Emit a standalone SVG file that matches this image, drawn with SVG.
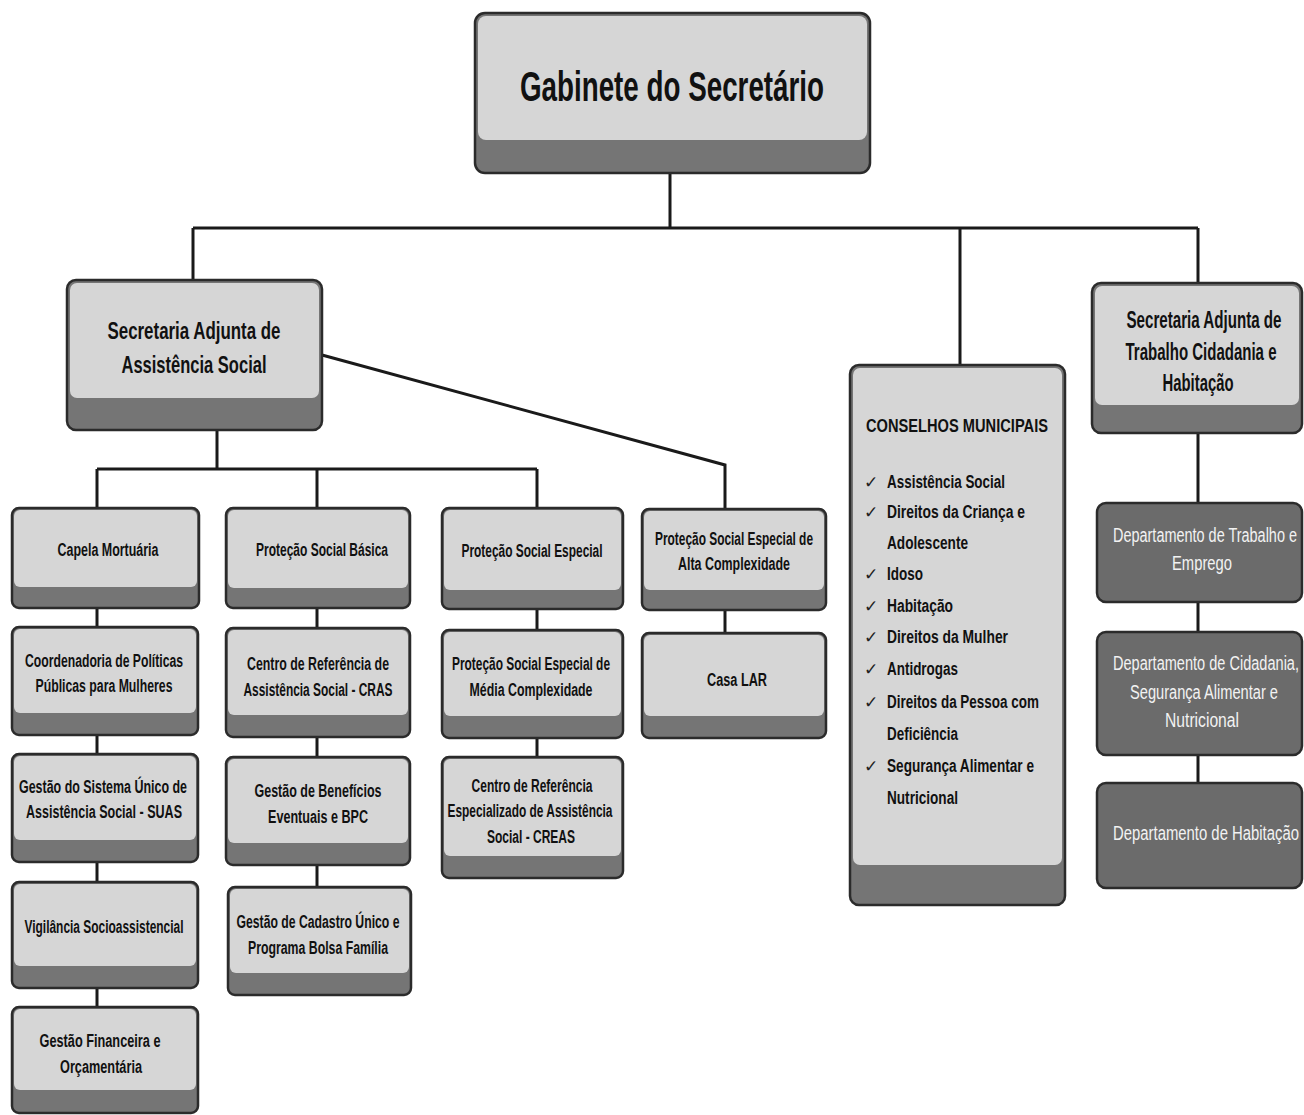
<svg xmlns="http://www.w3.org/2000/svg" width="1304" height="1115" viewBox="0 0 1304 1115">
<defs>
<style>
.bg{fill:#ffffff}
.outer{fill:#757575;stroke:#2b2b2b;stroke-width:2.5}
.inner{fill:#d6d6d6}
.dept{fill:#6b6b6b;stroke:#2b2b2b;stroke-width:2.5}
.t{font-family:"Liberation Sans Narrow","Liberation Sans",Arial,sans-serif;font-weight:bold;fill:#111;text-anchor:middle}
.s{font-size:18px}
.m{font-size:24px}
.l{font-size:42px}
.w{font-family:"Liberation Sans Narrow","Liberation Sans",Arial,sans-serif;font-weight:normal;fill:#f2f2f2;text-anchor:middle;font-size:20px}
.li{font-family:"Liberation Sans Narrow","Liberation Sans",Arial,sans-serif;font-weight:bold;fill:#111;font-size:18px}
.ck{font-family:"DejaVu Sans",sans-serif;fill:#222;font-size:17px}
.c{fill:none;stroke:#1a1a1a;stroke-width:3}
</style>
</defs>
<rect class="bg" x="0" y="0" width="1304" height="1115"/>

<g id="connectors">
<path class="c" d="M670,173 V228 M193,228 H1198 M193,228 V283 M960,228 V365 M1198,228 V283"/>
<path class="c" d="M217,430 V469 M97,469 H537 M97,469 V508 M317,469 V508 M537,469 V508"/>
<path class="c" d="M322,355 L725,465 V509"/>
<path class="c" d="M97,608 V627 M97,735 V754 M97,862 V882 M97,988 V1007"/>
<path class="c" d="M317,608 V628 M317,737 V757 M317,865 V887"/>
<path class="c" d="M537,609 V630 M537,738 V757"/>
<path class="c" d="M725,610 V633"/>
<path class="c" d="M1198,433 V503 M1198,602 V632 M1198,755 V783"/>
</g>

<g id="gabinete">
<rect class="outer" x="475" y="13" width="395" height="160" rx="10"/>
<rect class="inner" x="478" y="16" width="389" height="124" rx="8"/>
<text class="t l" x="672" y="101" textLength="304" lengthAdjust="spacingAndGlyphs">Gabinete do Secretário</text>
</g>

<g id="sa-assistencia">
<rect class="outer" x="67" y="280" width="255" height="150" rx="9"/>
<rect class="inner" x="70" y="283" width="249" height="115" rx="7"/>
<text class="t m" x="194" y="339" textLength="173" lengthAdjust="spacingAndGlyphs">Secretaria Adjunta de</text>
<text class="t m" x="194" y="373" textLength="145" lengthAdjust="spacingAndGlyphs">Assistência Social</text>
</g>

<g id="capela">
<rect class="outer" x="12" y="508" width="187" height="100" rx="7"/>
<rect class="inner" x="14" y="510" width="183" height="77" rx="6"/>
<text class="t s" x="108" y="556" textLength="101" lengthAdjust="spacingAndGlyphs">Capela Mortuária</text>
</g>

<g id="psb">
<rect class="outer" x="226" y="508" width="184" height="100" rx="7"/>
<rect class="inner" x="228" y="510" width="180" height="78" rx="6"/>
<text class="t s" x="322" y="556" textLength="132" lengthAdjust="spacingAndGlyphs">Proteção Social Básica</text>
</g>

<g id="pse">
<rect class="outer" x="442" y="508" width="181" height="101" rx="7"/>
<rect class="inner" x="444" y="510" width="177" height="80" rx="6"/>
<text class="t s" x="532" y="557" textLength="141" lengthAdjust="spacingAndGlyphs">Proteção Social Especial</text>
</g>

<g id="pse-alta">
<rect class="outer" x="642" y="509" width="184" height="101" rx="7"/>
<rect class="inner" x="644" y="511" width="180" height="79" rx="6"/>
<text class="t s" x="734" y="545" textLength="158" lengthAdjust="spacingAndGlyphs">Proteção Social Especial de</text>
<text class="t s" x="734" y="570" textLength="112" lengthAdjust="spacingAndGlyphs">Alta Complexidade</text>
</g>

<g id="coordenadoria">
<rect class="outer" x="12" y="627" width="186" height="108" rx="7"/>
<rect class="inner" x="14" y="629" width="182" height="84" rx="6"/>
<text class="t s" x="104" y="667" textLength="158" lengthAdjust="spacingAndGlyphs">Coordenadoria de Políticas</text>
<text class="t s" x="104" y="692" textLength="137" lengthAdjust="spacingAndGlyphs">Públicas para Mulheres</text>
</g>

<g id="cras">
<rect class="outer" x="226" y="628" width="184" height="109" rx="7"/>
<rect class="inner" x="228" y="630" width="180" height="85" rx="6"/>
<text class="t s" x="318" y="670" textLength="142" lengthAdjust="spacingAndGlyphs">Centro de Referência de</text>
<text class="t s" x="318" y="696" textLength="149" lengthAdjust="spacingAndGlyphs">Assistência Social - CRAS</text>
</g>

<g id="pse-media">
<rect class="outer" x="442" y="630" width="181" height="108" rx="7"/>
<rect class="inner" x="444" y="632" width="177" height="84" rx="6"/>
<text class="t s" x="531" y="670" textLength="158" lengthAdjust="spacingAndGlyphs">Proteção Social Especial de</text>
<text class="t s" x="531" y="696" textLength="123" lengthAdjust="spacingAndGlyphs">Média Complexidade</text>
</g>

<g id="casa-lar">
<rect class="outer" x="642" y="633" width="184" height="105" rx="7"/>
<rect class="inner" x="644" y="635" width="180" height="81" rx="6"/>
<text class="t s" x="737" y="686" textLength="60" lengthAdjust="spacingAndGlyphs">Casa LAR</text>
</g>

<g id="suas">
<rect class="outer" x="12" y="754" width="186" height="108" rx="7"/>
<rect class="inner" x="14" y="756" width="182" height="84" rx="6"/>
<text class="t s" x="103" y="793" textLength="168" lengthAdjust="spacingAndGlyphs">Gestão do Sistema Único de</text>
<text class="t s" x="104" y="818" textLength="156" lengthAdjust="spacingAndGlyphs">Assistência Social - SUAS</text>
</g>

<g id="beneficios">
<rect class="outer" x="226" y="757" width="184" height="108" rx="7"/>
<rect class="inner" x="228" y="759" width="180" height="84" rx="6"/>
<text class="t s" x="318" y="797" textLength="127" lengthAdjust="spacingAndGlyphs">Gestão de Benefícios</text>
<text class="t s" x="318" y="823" textLength="100" lengthAdjust="spacingAndGlyphs">Eventuais e BPC</text>
</g>

<g id="creas">
<rect class="outer" x="442" y="757" width="181" height="121" rx="7"/>
<rect class="inner" x="444" y="759" width="177" height="97" rx="6"/>
<text class="t s" x="532" y="792" textLength="121" lengthAdjust="spacingAndGlyphs">Centro de Referência</text>
<text class="t s" x="530" y="817" textLength="165" lengthAdjust="spacingAndGlyphs">Especializado de Assistência</text>
<text class="t s" x="531" y="843" textLength="88" lengthAdjust="spacingAndGlyphs">Social - CREAS</text>
</g>

<g id="vigilancia">
<rect class="outer" x="12" y="882" width="186" height="106" rx="7"/>
<rect class="inner" x="14" y="884" width="182" height="82" rx="6"/>
<text class="t s" x="104" y="933" textLength="159" lengthAdjust="spacingAndGlyphs">Vigilância Socioassistencial</text>
</g>

<g id="cadastro">
<rect class="outer" x="228" y="887" width="183" height="108" rx="7"/>
<rect class="inner" x="230" y="889" width="179" height="84" rx="6"/>
<text class="t s" x="318" y="928" textLength="163" lengthAdjust="spacingAndGlyphs">Gestão de Cadastro Único e</text>
<text class="t s" x="318" y="954" textLength="140" lengthAdjust="spacingAndGlyphs">Programa Bolsa Família</text>
</g>

<g id="financeira">
<rect class="outer" x="12" y="1007" width="186" height="106" rx="7"/>
<rect class="inner" x="14" y="1009" width="182" height="81" rx="6"/>
<text class="t s" x="100" y="1047" textLength="121" lengthAdjust="spacingAndGlyphs">Gestão Financeira e</text>
<text class="t s" x="101" y="1073" textLength="82" lengthAdjust="spacingAndGlyphs">Orçamentária</text>
</g>

<g id="conselhos">
<rect class="outer" x="850" y="365" width="215" height="540" rx="9"/>
<rect class="inner" x="853" y="368" width="209" height="497" rx="7"/>
<text class="li" x="866" y="432" textLength="182" lengthAdjust="spacingAndGlyphs">CONSELHOS MUNICIPAIS</text>
<text class="ck" x="864" y="488">✓</text>
<text class="li" x="887" y="488" textLength="118" lengthAdjust="spacingAndGlyphs">Assistência Social</text>
<text class="ck" x="864" y="518">✓</text>
<text class="li" x="887" y="518" textLength="138" lengthAdjust="spacingAndGlyphs">Direitos da Criança e</text>
<text class="li" x="887" y="549" textLength="81" lengthAdjust="spacingAndGlyphs">Adolescente</text>
<text class="ck" x="864" y="580">✓</text>
<text class="li" x="887" y="580" textLength="36" lengthAdjust="spacingAndGlyphs">Idoso</text>
<text class="ck" x="864" y="612">✓</text>
<text class="li" x="887" y="612" textLength="66" lengthAdjust="spacingAndGlyphs">Habitação</text>
<text class="ck" x="864" y="643">✓</text>
<text class="li" x="887" y="643" textLength="121" lengthAdjust="spacingAndGlyphs">Direitos da Mulher</text>
<text class="ck" x="864" y="675">✓</text>
<text class="li" x="887" y="675" textLength="71" lengthAdjust="spacingAndGlyphs">Antidrogas</text>
<text class="ck" x="864" y="708">✓</text>
<text class="li" x="887" y="708" textLength="152" lengthAdjust="spacingAndGlyphs">Direitos da Pessoa com</text>
<text class="li" x="887" y="740" textLength="71" lengthAdjust="spacingAndGlyphs">Deficiência</text>
<text class="ck" x="864" y="772">✓</text>
<text class="li" x="887" y="772" textLength="147" lengthAdjust="spacingAndGlyphs">Segurança Alimentar e</text>
<text class="li" x="887" y="804" textLength="71" lengthAdjust="spacingAndGlyphs">Nutricional</text>
</g>

<g id="sa-trabalho">
<rect class="outer" x="1092" y="283" width="210" height="150" rx="9"/>
<rect class="inner" x="1095" y="286" width="204" height="119" rx="7"/>
<text class="t" x="1204" y="328" font-size="24" textLength="155" lengthAdjust="spacingAndGlyphs">Secretaria Adjunta de</text>
<text class="t" x="1201" y="360" font-size="24" textLength="151" lengthAdjust="spacingAndGlyphs">Trabalho Cidadania e</text>
<text class="t" x="1198" y="391" font-size="24" textLength="71" lengthAdjust="spacingAndGlyphs">Habitação</text>
</g>

<g id="dep-trabalho">
<rect class="dept" x="1097" y="503" width="205" height="99" rx="9"/>
<text class="w" x="1205" y="542" textLength="184" lengthAdjust="spacingAndGlyphs">Departamento de Trabalho e</text>
<text class="w" x="1202" y="570" textLength="60" lengthAdjust="spacingAndGlyphs">Emprego</text>
</g>

<g id="dep-cidadania">
<rect class="dept" x="1097" y="632" width="205" height="123" rx="9"/>
<text class="w" x="1206" y="670" textLength="186" lengthAdjust="spacingAndGlyphs">Departamento de Cidadania,</text>
<text class="w" x="1204" y="699" textLength="148" lengthAdjust="spacingAndGlyphs">Segurança Alimentar e</text>
<text class="w" x="1202" y="727" textLength="74" lengthAdjust="spacingAndGlyphs">Nutricional</text>
</g>

<g id="dep-habitacao">
<rect class="dept" x="1097" y="783" width="205" height="105" rx="9"/>
<text class="w" x="1206" y="840" textLength="186" lengthAdjust="spacingAndGlyphs">Departamento de Habitação</text>
</g>
</svg>
